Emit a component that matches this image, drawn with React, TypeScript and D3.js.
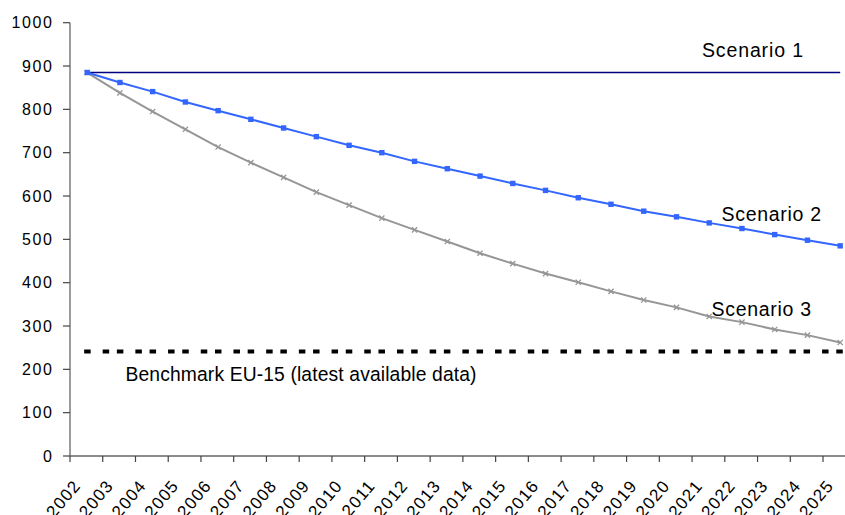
import React from "react";
import * as d3 from "d3";

const years = d3.range(2002, 2026).map(String);
const scenario1 = years.map(() => 885);
const scenario2 = [885, 862, 841, 817, 797, 777, 757, 737, 717, 700, 680, 663, 646, 629, 613, 596, 581, 565, 552, 538, 525, 511, 498, 485];
const scenario3 = [885, 838, 795, 754, 713, 677, 643, 609, 579, 549, 522, 495, 468, 444, 421, 401, 380, 360, 343, 322, 309, 292, 279, 262];
const benchmark = years.map(() => 241);
const yTicks = [0, 100, 200, 300, 400, 500, 600, 700, 800, 900, 1000];

const W = 845;
const H = 515;
const FONT = "'Liberation Sans', Arial, sans-serif";

export default function App() {
  const x = d3.scaleBand<string>().domain(years).range([70, 70 + 24 * 32.74]).paddingInner(0).paddingOuter(0);
  const bw = x.bandwidth();
  const cx = (yr: string) => (x(yr) as number) + bw / 2 + 0.8;
  const y = d3.scaleLinear().domain([0, 1000]).range([456, 22.7]);

  const line = d3
    .line<number>()
    .x((_, i) => cx(years[i]))
    .y((d) => y(d));

  const benchStart = cx(years[0]) - 3;
  const benchEnd = (x(years[years.length - 1]) as number) + bw;

  return (
    <svg
      width={W}
      height={H}
      style={{ position: "absolute", left: 0, top: 0, background: "#fff" }}
      fontFamily={FONT}
    >
      <rect x={0} y={0} width={W} height={H} fill="#fff" />
      {/* Y axis */}
      <line x1={70} x2={70} y1={y(1000)} y2={y(0)} stroke="#666" strokeWidth={1.3} />
      {yTicks.map((t) => (
        <g key={t}>
          <line x1={63} x2={70} y1={y(t)} y2={y(t)} stroke="#444" strokeWidth={1.2} />
          <text
            x={53.5}
            y={y(t)}
            dy="0.36em"
            textAnchor="end"
            fontSize={16}
            letterSpacing={1.6}
            fill="#000"
          >
            {t}
          </text>
        </g>
      ))}
      {/* X axis */}
      <line x1={70} x2={W} y1={y(0)} y2={y(0)} stroke="#666" strokeWidth={1.3} />
      {years.map((yr) => {
        const tx = x(yr) as number;
        return (
          <g key={yr}>
            <line x1={tx} x2={tx} y1={y(0)} y2={y(0) + 6} stroke="#444" strokeWidth={1.2} />
            <text
              transform={`translate(${tx + 11.5},${486}) rotate(-50)`}
              textAnchor="end"
              fontSize={17}
              letterSpacing={1.2}
              fill="#000"
            >
              {yr}
            </text>
          </g>
        );
      })}

      {/* Benchmark */}
      <line
        x1={benchStart}
        x2={benchEnd}
        y1={y(benchmark[0])}
        y2={y(benchmark[0])}
        stroke="#000"
        strokeWidth={4}
        strokeDasharray="6.5 12 6.5 7.7"
      />

      {/* Scenario 1 */}
      <path d={line(scenario1) || ""} fill="none" stroke="#000080" strokeWidth={1.6} />

      {/* Scenario 3 */}
      <path d={line(scenario3) || ""} fill="none" stroke="#969696" strokeWidth={2} />
      {scenario3.map((v, i) => {
        const px = cx(years[i]);
        const py = y(v);
        const s = 2.6;
        return (
          <path
            key={"s3" + i}
            d={`M${px - s},${py - s}L${px + s},${py + s}M${px - s},${py + s}L${px + s},${py - s}`}
            stroke="#969696"
            strokeWidth={1.3}
            fill="none"
          />
        );
      })}

      {/* Scenario 2 */}
      <path d={line(scenario2) || ""} fill="none" stroke="#3366FF" strokeWidth={2} />
      {scenario2.map((v, i) => (
        <rect
          key={"s2" + i}
          x={cx(years[i]) - 2.7}
          y={y(v) - 2.7}
          width={5.4}
          height={5.4}
          fill="#3366FF"
        />
      ))}

      {/* Labels */}
      <text x={702} y={57} fontSize={19.5} textLength={101} lengthAdjust="spacing" fill="#000">
        Scenario 1
      </text>
      <text x={721.5} y={221} fontSize={19.5} textLength={99.5} lengthAdjust="spacing" fill="#000">
        Scenario 2
      </text>
      <text x={711.5} y={316} fontSize={19.5} textLength={99.5} lengthAdjust="spacing" fill="#000">
        Scenario 3
      </text>
      <text x={125.5} y={381} fontSize={19.3} textLength={351} lengthAdjust="spacing" fill="#000">
        Benchmark EU-15 (latest available data)
      </text>
    </svg>
  );
}
